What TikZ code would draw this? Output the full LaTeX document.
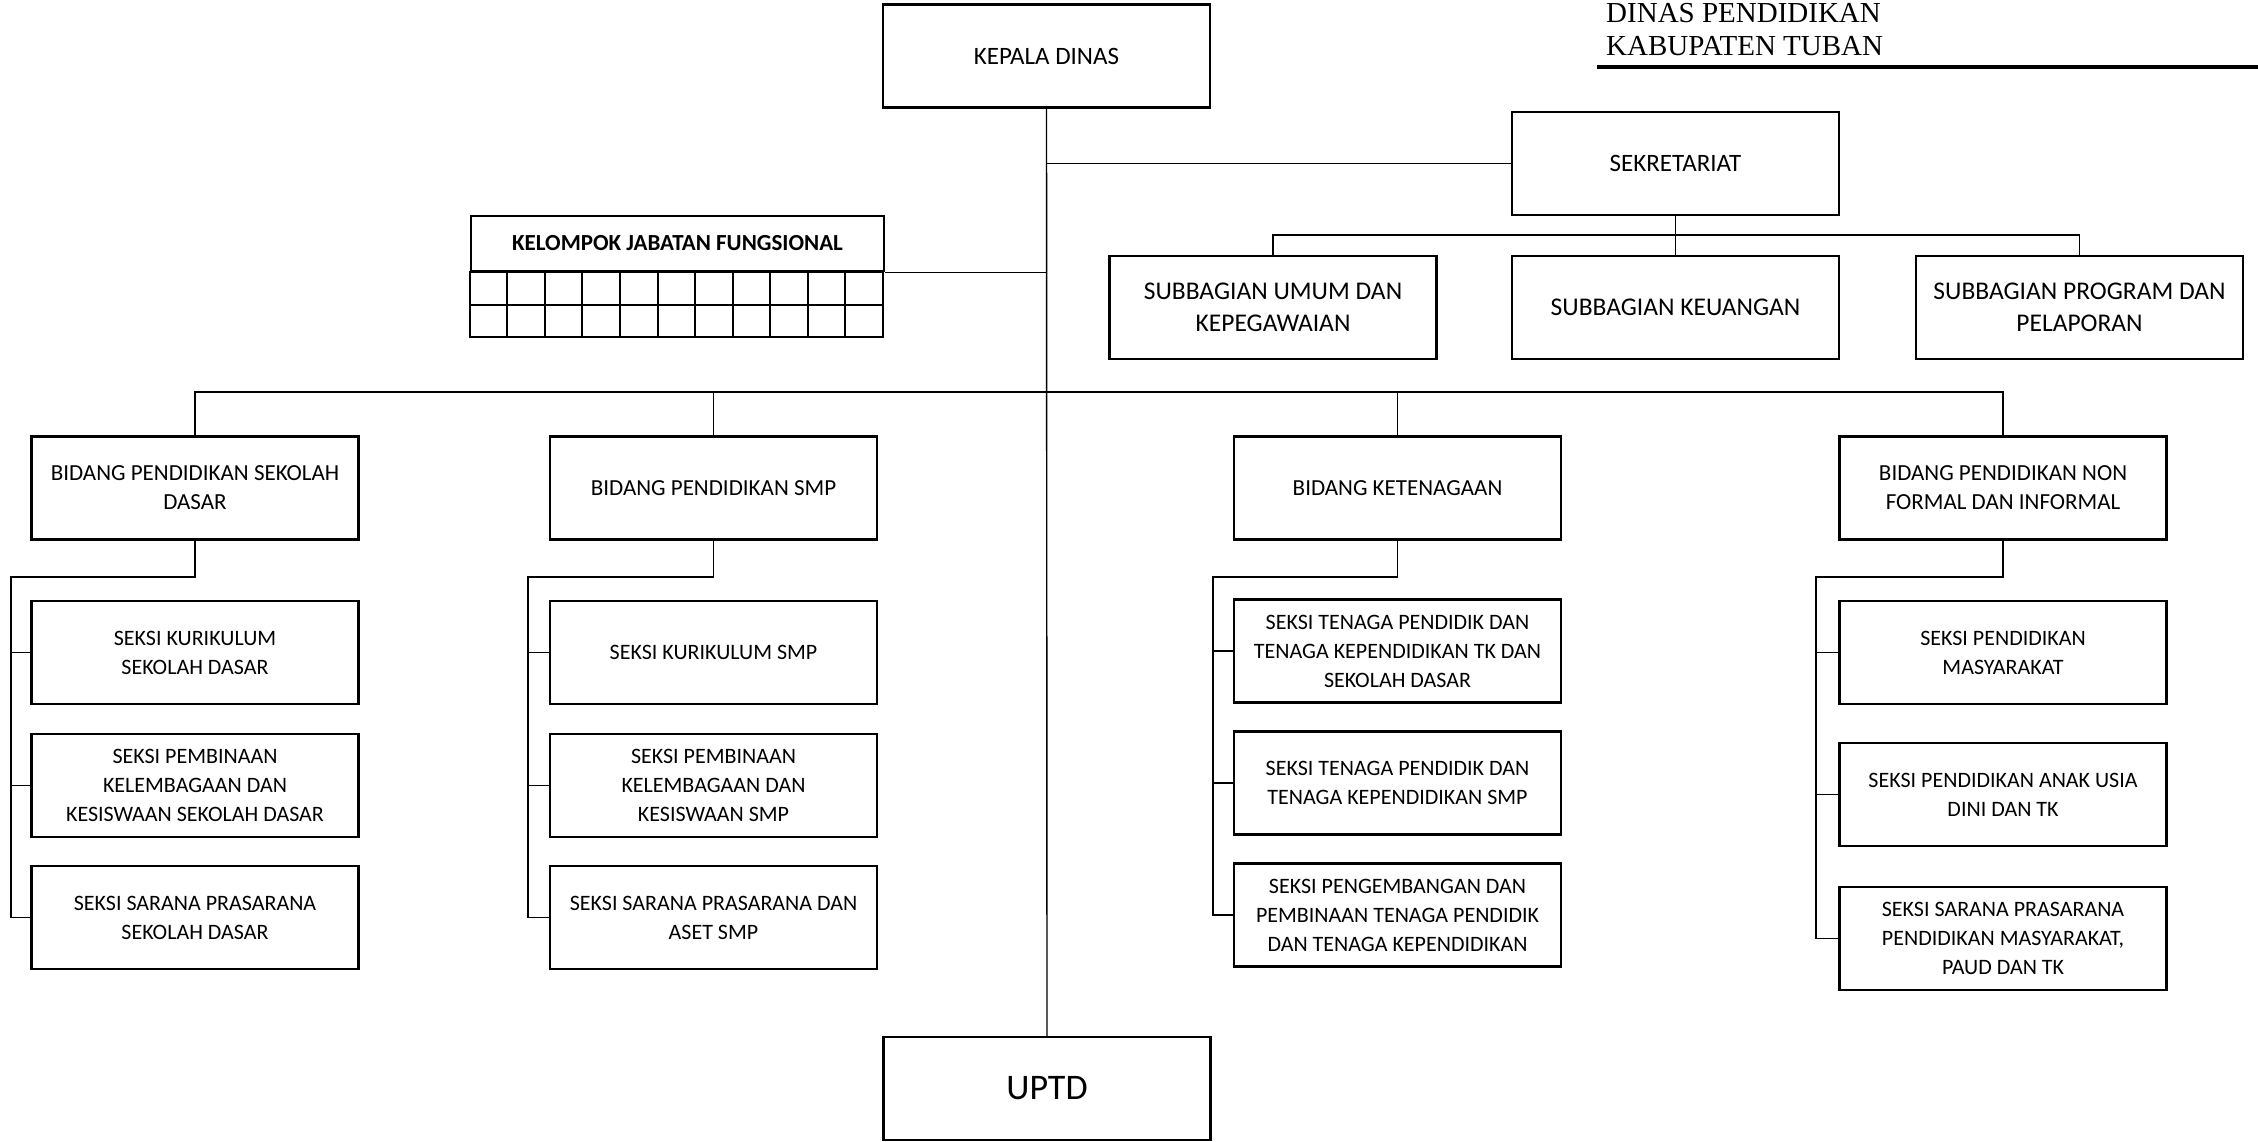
\documentclass[tikz,border=0pt]{standalone}
\usepackage{fontspec}
\setmainfont{Carlito}
\newfontfamily\headfont{Liberation Serif}
\usetikzlibrary{calc}

\tikzset{
  orgbox/.style={draw, line width=2.4pt, minimum width=327pt, minimum height=103pt,
    inner sep=0pt, align=center},
  topbox/.style={orgbox, font=\fontsize{25}{31}\selectfont},
  subbox/.style={orgbox, font=\fontsize{25.5}{32}\selectfont},
  bidangbox/.style={orgbox, font=\fontsize{23}{29}\selectfont},
  seksibox/.style={orgbox, font=\fontsize{22}{29}\selectfont},
  link/.style={line width=1.4pt},
  cell/.style={line width=2pt}
}

\begin{document}
\begin{tikzpicture}[x=1pt, y=-1pt]
  \useasboundingbox (0,0) rectangle (2258,1141);

  % header
  \node[anchor=base west, inner sep=0pt, font=\headfont\fontsize{29}{35}\selectfont] (head1) at (1606,22) {DINAS PENDIDIKAN};
  \node[anchor=base west, inner sep=0pt, font=\headfont\fontsize{29}{35}\selectfont] (head2) at (1606,55) {KABUPATEN TUBAN};
  \draw[line width=3.5pt] (1597,67) -- (2258,67);

  % top
  \node[topbox] (kepala) at (1046.5,56) {KEPALA DINAS};
  \node[topbox] (sek) at (1675.5,163.5) {SEKRETARIAT};
  \node[subbox] (umum) at (1273,307.5) {SUBBAGIAN UMUM DAN\\KEPEGAWAIAN};
  \node[subbox] (keu) at (1675.5,307.5) {SUBBAGIAN KEUANGAN};
  \node[subbox] (prog) at (2079.5,307.5) {SUBBAGIAN PROGRAM DAN\\PELAPORAN};
  \node[orgbox, minimum width=413pt, minimum height=55pt, font=\bfseries\fontsize{23}{28}\selectfont] (kjf) at (677.5,243.5) {KELOMPOK JABATAN FUNGSIONAL};
  \node[orgbox, font=\fontsize{36}{42}\selectfont] (uptd) at (1047,1088.5) {UPTD};

  % bidang
  \node[bidangbox] (sd) at (195,488) {BIDANG PENDIDIKAN SEKOLAH\\DASAR};
  \node[bidangbox] (smp) at (713.5,488) {BIDANG PENDIDIKAN SMP};
  \node[bidangbox] (ket) at (1397.5,488) {BIDANG KETENAGAAN};
  \node[bidangbox] (nf) at (2003,488) {BIDANG PENDIDIKAN NON\\FORMAL DAN INFORMAL};

  % seksi
  \node[seksibox] (sd1) at (195,652.5) {SEKSI KURIKULUM\\SEKOLAH DASAR};
  \node[seksibox] (sd2) at (195,785.5) {SEKSI PEMBINAAN\\KELEMBAGAAN DAN\\KESISWAAN SEKOLAH DASAR};
  \node[seksibox] (sd3) at (195,917.5) {SEKSI SARANA PRASARANA\\SEKOLAH DASAR};

  \node[seksibox] (smp1) at (713.5,652.5) {SEKSI KURIKULUM SMP};
  \node[seksibox] (smp2) at (713.5,785.5) {SEKSI PEMBINAAN\\KELEMBAGAAN DAN\\KESISWAAN SMP};
  \node[seksibox] (smp3) at (713.5,917.5) {SEKSI SARANA PRASARANA DAN\\ASET SMP};

  \node[seksibox] (ket1) at (1397.5,651) {SEKSI TENAGA PENDIDIK DAN\\TENAGA KEPENDIDIKAN TK DAN\\SEKOLAH DASAR};
  \node[seksibox] (ket2) at (1397.5,783) {SEKSI TENAGA PENDIDIK DAN\\TENAGA KEPENDIDIKAN SMP};
  \node[seksibox] (ket3) at (1397.5,915) {SEKSI PENGEMBANGAN DAN\\PEMBINAAN TENAGA PENDIDIK\\DAN TENAGA KEPENDIDIKAN};

  \node[seksibox] (nf1) at (2003,652.5) {SEKSI PENDIDIKAN\\MASYARAKAT};
  \node[seksibox] (nf2) at (2003,794.5) {SEKSI PENDIDIKAN ANAK USIA\\DINI DAN TK};
  \node[seksibox] (nf3) at (2003,938.5) {SEKSI SARANA PRASARANA\\PENDIDIKAN MASYARAKAT,\\PAUD DAN TK};

  % grid under kelompok jabatan fungsional
  \foreach \i in {0,...,10}
    \foreach \j in {0,1}
      \draw[cell] ($(kjf.south west)+(\i*37.545,\j*32.5)$) rectangle ++(37.545,32.5);

  % connectors
  \coordinate (sbar) at (1675.5,235);
  \coordinate (bbar) at (1047,392);

  \draw[link] (kepala.south) -- (uptd.north);
  \draw[link] (kepala.south |- sek.west) -- (sek.west);
  \draw[link] (sek.south) -- (keu.north);
  \draw[link] (umum.north) |- (sbar) -| (prog.north);
  \draw[link] (kjf.south east) -- (kjf.south east -| kepala.south);
  \draw[link] (sd.north) |- (bbar) -| (nf.north);
  \draw[link] (smp.north) -- (smp.north |- bbar);
  \draw[link] (ket.north) -- (ket.north |- bbar);

  \foreach \b/\x in {sd/11, smp/528, ket/1213, nf/1816} {
    \coordinate (\b-k) at (\x,577);
    \draw[link] (\b.south) |- (\b-k) |- (\b3.west);
    \foreach \s in {1,2}
      \draw[link] (\b-k |- \b\s.west) -- (\b\s.west);
  }
\end{tikzpicture}
\end{document}
